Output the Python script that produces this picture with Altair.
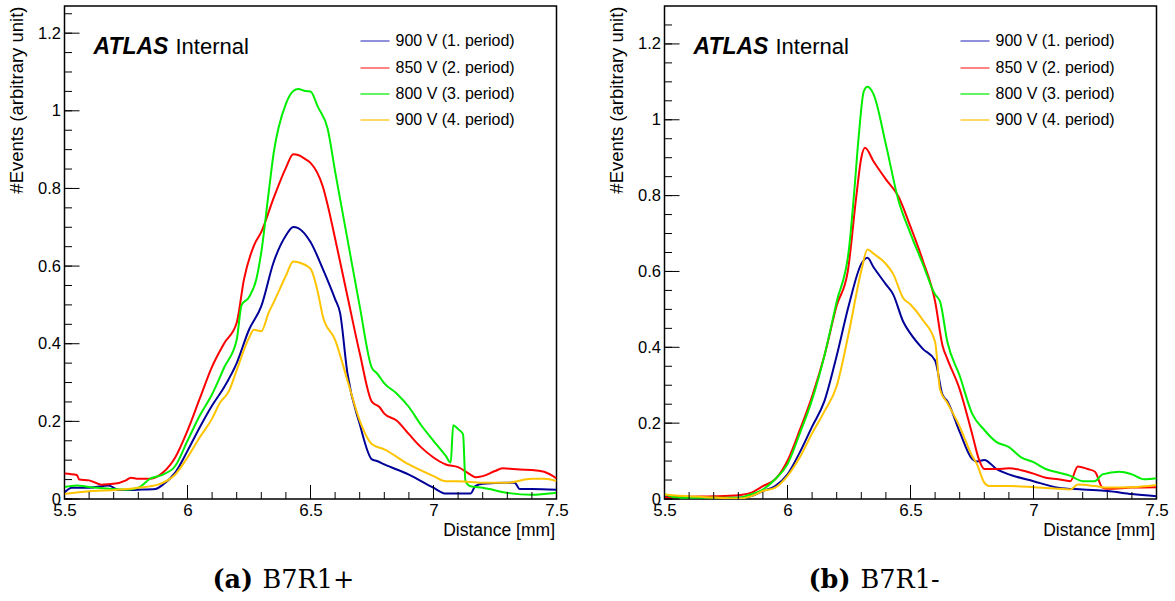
import altair as alt
import pandas as pd

SERIES = ["900 V (1. period)", "850 V (2. period)", "800 V (3. period)", "900 V (4. period)"]
LINE_COLORS = ["#000099", "#ff0000", "#00ee00", "#ffc400"]
LEGEND_COLORS = ["#6a6acf", "#ff5a5a", "#2ef02e", "#ffcc33"]

X_TICK_LABELS = [5.5, 6.0, 6.5, 7.0, 7.5]
Y_TICK_LABELS_A = [0, 0.2, 0.4, 0.6, 0.8, 1.0, 1.2]
Y_TICK_LABELS_B = [0, 0.2, 0.4, 0.6, 0.8, 1.0, 1.2]
Y_MAX_A = 1.27
Y_MAX_B = 1.30

# ---------------- panel (a) B7R1+ ----------------
a_blue_x = [5.5,5.53,5.6,5.68,5.72,5.8,5.87,5.9,5.95,6.0,6.05,6.1,6.15,6.2,6.25,6.3,6.35,6.4,6.43,6.45,6.5,6.55,6.6,6.62,6.65,6.7,6.75,6.77,6.8,6.9,7.0,7.05,7.1,7.15,7.17,7.2,7.3,7.33,7.35,7.4,7.5]
a_blue_y = [0.017,0.029,0.029,0.035,0.023,0.024,0.026,0.037,0.068,0.124,0.185,0.241,0.289,0.35,0.436,0.497,0.61,0.679,0.701,0.698,0.662,0.593,0.515,0.48,0.324,0.193,0.102,0.098,0.089,0.063,0.029,0.014,0.014,0.014,0.033,0.039,0.042,0.042,0.026,0.026,0.024]

a_red_x = [5.5,5.55,5.56,5.6,5.65,5.7,5.75,5.77,5.8,5.85,5.9,5.95,6.0,6.05,6.1,6.15,6.2,6.23,6.27,6.3,6.35,6.4,6.43,6.45,6.48,6.5,6.55,6.57,6.6,6.65,6.7,6.75,6.78,6.8,6.85,6.9,6.95,7.0,7.05,7.1,7.15,7.17,7.2,7.25,7.28,7.35,7.4,7.45,7.5]
a_red_y = [0.066,0.062,0.05,0.048,0.037,0.039,0.048,0.055,0.052,0.052,0.068,0.107,0.176,0.259,0.341,0.402,0.454,0.567,0.653,0.688,0.775,0.853,0.888,0.886,0.875,0.866,0.805,0.757,0.671,0.523,0.376,0.25,0.237,0.22,0.202,0.167,0.133,0.107,0.089,0.082,0.063,0.056,0.059,0.072,0.079,0.076,0.075,0.07,0.053]

a_green_x = [5.5,5.55,5.6,5.7,5.75,5.8,5.85,5.9,5.95,6.0,6.05,6.1,6.15,6.2,6.22,6.25,6.28,6.3,6.33,6.35,6.4,6.43,6.45,6.48,6.5,6.53,6.57,6.6,6.65,6.7,6.75,6.77,6.8,6.85,6.9,6.95,7.0,7.05,7.07,7.08,7.1,7.12,7.13,7.15,7.2,7.3,7.4,7.45,7.5]
a_green_y = [0.031,0.035,0.031,0.026,0.024,0.029,0.053,0.063,0.085,0.15,0.215,0.27,0.34,0.41,0.50,0.52,0.567,0.636,0.79,0.89,1.018,1.051,1.056,1.051,1.05,1.01,0.953,0.844,0.67,0.497,0.337,0.324,0.298,0.272,0.237,0.19,0.15,0.111,0.094,0.19,0.18,0.167,0.046,0.033,0.029,0.016,0.011,0.013,0.016]

a_yel_x = [5.5,5.6,5.7,5.8,5.88,5.95,6.0,6.05,6.1,6.13,6.17,6.2,6.25,6.27,6.3,6.33,6.35,6.4,6.43,6.45,6.5,6.53,6.55,6.6,6.65,6.7,6.75,6.8,6.9,7.0,7.05,7.1,7.2,7.3,7.4,7.45,7.5]
a_yel_y = [0.013,0.02,0.023,0.029,0.037,0.063,0.107,0.159,0.207,0.246,0.28,0.332,0.415,0.436,0.432,0.48,0.506,0.575,0.612,0.61,0.593,0.532,0.471,0.41,0.306,0.202,0.141,0.128,0.089,0.059,0.046,0.046,0.042,0.042,0.052,0.052,0.046]

# ---------------- panel (b) B7R1- ----------------
b_blue_x = [5.5,5.6,5.7,5.8,5.85,5.9,5.95,6.0,6.05,6.1,6.15,6.2,6.25,6.3,6.325,6.35,6.4,6.43,6.47,6.5,6.55,6.6,6.63,6.65,6.7,6.75,6.77,6.8,6.85,6.9,7.0,7.1,7.2,7.3,7.4,7.5]
b_blue_y = [0.007,0.004,0.003,0.003,0.007,0.021,0.034,0.065,0.123,0.191,0.258,0.378,0.513,0.62,0.636,0.611,0.566,0.539,0.468,0.436,0.396,0.365,0.275,0.258,0.177,0.106,0.099,0.103,0.079,0.065,0.047,0.03,0.025,0.021,0.013,0.007]

b_red_x = [5.5,5.6,5.7,5.8,5.85,5.9,5.95,6.0,6.05,6.1,6.15,6.2,6.245,6.28,6.3,6.315,6.35,6.4,6.45,6.5,6.55,6.6,6.63,6.65,6.7,6.75,6.78,6.8,6.85,6.9,6.95,7.0,7.05,7.1,7.15,7.18,7.22,7.25,7.28,7.3,7.4,7.5]
b_red_y = [0.004,0.006,0.007,0.01,0.016,0.034,0.052,0.101,0.182,0.271,0.378,0.51,0.60,0.80,0.90,0.926,0.89,0.843,0.799,0.718,0.629,0.521,0.405,0.369,0.289,0.173,0.101,0.079,0.079,0.081,0.076,0.067,0.056,0.052,0.047,0.086,0.079,0.072,0.03,0.027,0.03,0.031]

b_green_x = [5.5,5.55,5.6,5.7,5.8,5.85,5.9,5.95,6.0,6.05,6.1,6.15,6.2,6.25,6.27,6.29,6.31,6.325,6.35,6.4,6.45,6.5,6.55,6.6,6.62,6.65,6.7,6.75,6.8,6.85,6.9,6.95,7.0,7.05,7.1,7.15,7.2,7.25,7.28,7.35,7.4,7.45,7.5]
b_green_y = [0.013,0.004,0.003,0.003,0.003,0.012,0.025,0.052,0.092,0.173,0.262,0.378,0.52,0.66,0.80,0.96,1.075,1.087,1.067,0.935,0.79,0.70,0.62,0.539,0.521,0.414,0.325,0.226,0.182,0.15,0.137,0.11,0.097,0.079,0.07,0.061,0.047,0.047,0.065,0.072,0.065,0.052,0.055]

b_yel_x = [5.5,5.6,5.7,5.8,5.85,5.9,5.95,6.0,6.05,6.1,6.15,6.2,6.25,6.3,6.325,6.35,6.4,6.43,6.47,6.5,6.55,6.6,6.62,6.65,6.7,6.75,6.77,6.8,6.82,6.9,7.0,7.1,7.15,7.18,7.25,7.3,7.4,7.5]
b_yel_y = [0.012,0.007,0.004,0.001,0.007,0.021,0.03,0.061,0.11,0.173,0.231,0.298,0.441,0.602,0.658,0.647,0.62,0.593,0.53,0.513,0.472,0.414,0.289,0.253,0.191,0.114,0.092,0.043,0.034,0.034,0.031,0.027,0.025,0.038,0.034,0.03,0.031,0.037]

W, H = 492, 493
FONT = "Liberation Sans"
SERIF = "DejaVu Serif"


def ticks(start, stop, step):
    n = int(round((stop - start) / step))
    return [round(start + i * step, 4) for i in range(n + 1)]


def one(text):
    return pd.DataFrame({"t": [text]})


def panel(series_xy, ymax, y_labels, tag, name):
    frames = []
    for s, (xs, ys) in zip(SERIES, series_xy):
        assert len(xs) == len(ys), (s, len(xs), len(ys))
        frames.append(pd.DataFrame({"x": xs, "y": ys, "s": s}))
    df = pd.concat(frames, ignore_index=True)

    xsc = alt.Scale(domain=[5.5, 7.5], nice=False, zero=False)
    ysc = alt.Scale(domain=[0, ymax], nice=False, zero=True)

    x_axis = alt.Axis(
        values=X_TICK_LABELS, format="~g", title="Distance [mm]",
        domain=False, ticks=False, tickSize=0, grid=False,
        labelPadding=3, labelFont=FONT, labelFontSize=17, labelColor="black",
        labelOverlap=False, labelFlush=False,
        titleFont=FONT, titleFontSize=17.5, titleFontWeight="normal", titleColor="black",
        titleX=W - 2, titleY=36, titleAlign="right", titleBaseline="alphabetic")
    y_axis = alt.Axis(
        values=y_labels, format="~g", title="#Events (arbitrary unit)",
        domain=False, ticks=False, tickSize=0, grid=False,
        labelPadding=4, labelFont=FONT, labelFontSize=16.5, labelColor="black",
        labelOverlap=False, labelFlush=False,
        titleFont=FONT, titleFontSize=18.5, titleFontWeight="normal", titleColor="black",
        titleX=-48, titleY=0, titleAngle=270, titleAlign="right", titleBaseline="middle")

    lines = alt.Chart(df).mark_line(strokeWidth=2, clip=True, interpolate="monotone").encode(
        x=alt.X("x:Q", scale=xsc, axis=x_axis),
        y=alt.Y("y:Q", scale=ysc, axis=y_axis),
        color=alt.Color("s:N", scale=alt.Scale(domain=SERIES, range=LINE_COLORS), legend=None),
        detail="s:N",
    )

    layers = [lines]
    # inward ROOT-style ticks
    y_minor = [v for v in ticks(0, 1.3, 0.05) if v < ymax]
    x_minor = ticks(5.5, 7.5, 0.1)
    layers.append(alt.Chart(pd.DataFrame({"v": y_labels})).mark_rule(color="black", strokeWidth=1).encode(
        y=alt.Y("v:Q", scale=ysc, axis=y_axis), x=alt.value(0), x2=alt.value(15)))
    layers.append(alt.Chart(pd.DataFrame({"v": y_minor})).mark_rule(color="black", strokeWidth=1).encode(
        y=alt.Y("v:Q", scale=ysc, axis=y_axis), x=alt.value(0), x2=alt.value(7.5)))
    layers.append(alt.Chart(pd.DataFrame({"v": X_TICK_LABELS})).mark_rule(color="black", strokeWidth=1).encode(
        x=alt.X("v:Q", scale=xsc, axis=x_axis), y=alt.value(H), y2=alt.value(H - 14)))
    layers.append(alt.Chart(pd.DataFrame({"v": x_minor})).mark_rule(color="black", strokeWidth=1).encode(
        x=alt.X("v:Q", scale=xsc, axis=x_axis), y=alt.value(H), y2=alt.value(H - 7)))

    # legend
    leg_y = [35, 62, 88, 114]
    for lab, col, yy in zip(SERIES, LEGEND_COLORS, leg_y):
        layers.append(alt.Chart(one(lab)).mark_rule(color=col, strokeWidth=1.5).encode(
            x=alt.value(296), x2=alt.value(325), y=alt.value(yy)))
        layers.append(alt.Chart(one(lab)).mark_text(
            align="left", baseline="middle", font=FONT, fontSize=16, color="black").encode(
            x=alt.value(331), y=alt.value(yy), text="t:N"))

    # ATLAS Internal
    layers.append(alt.Chart(one("ATLAS")).mark_text(
        align="left", baseline="alphabetic", font=FONT, fontSize=23, fontStyle="italic",
        fontWeight="bold", color="black").encode(x=alt.value(29), y=alt.value(48), text="t:N"))
    layers.append(alt.Chart(one("Internal")).mark_text(
        align="left", baseline="alphabetic", font=FONT, fontSize=22, color="black").encode(
        x=alt.value(111), y=alt.value(48), text="t:N"))

    # caption
    tag_x, name_x = (148, 198) if tag == "(a)" else (144, 196)
    layers.append(alt.Chart(one(tag)).mark_text(
        align="left", baseline="alphabetic", font=SERIF, fontSize=25.5, fontWeight="bold",
        color="black").encode(x=alt.value(tag_x), y=alt.value(582), text="t:N"))
    layers.append(alt.Chart(one(name)).mark_text(
        align="left", baseline="alphabetic", font=SERIF, fontSize=25.5, color="black").encode(
        x=alt.value(name_x), y=alt.value(582), text="t:N"))

    return alt.layer(*layers).properties(width=W, height=H)


left = panel([(a_blue_x, a_blue_y), (a_red_x, a_red_y), (a_green_x, a_green_y), (a_yel_x, a_yel_y)],
             Y_MAX_A, Y_TICK_LABELS_A, "(a)", "B7R1+")
right = panel([(b_blue_x, b_blue_y), (b_red_x, b_red_y), (b_green_x, b_green_y), (b_yel_x, b_yel_y)],
              Y_MAX_B, Y_TICK_LABELS_B, "(b)", "B7R1-")

chart = alt.hconcat(left, right, spacing=108, bounds="flush").properties(
    padding={"left": 6.5, "top": 5, "right": 0, "bottom": 0},
    background="white",
).configure_view(stroke="black", strokeWidth=1.5)

chart.save("out.html", embed_options={"renderer": "svg", "actions": False})
